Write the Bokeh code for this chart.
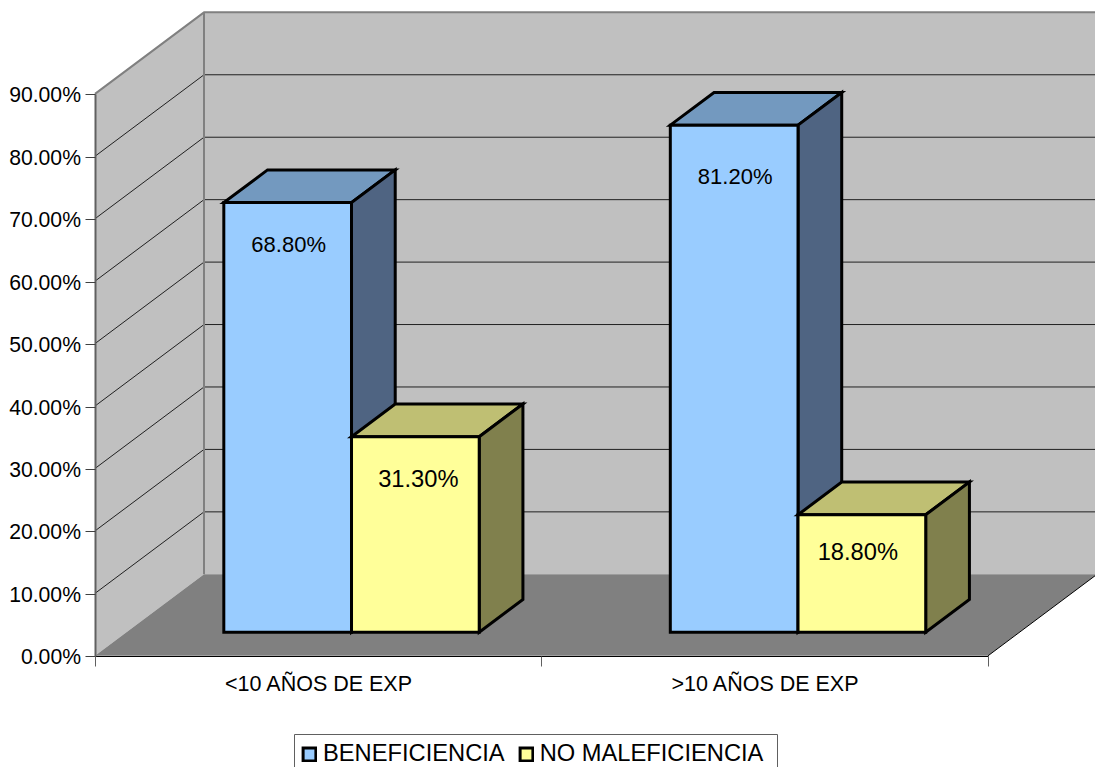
from bokeh.core.properties import value
from bokeh.embed import file_html
from bokeh.models import BoxAnnotation, ColumnDataSource, FixedTicker, Legend, LegendItem, LinearAxis, Range1d
from bokeh.plotting import figure
from bokeh.resources import INLINE

# Chart content
categories = ["<10 AÑOS DE EXP", ">10 AÑOS DE EXP"]
series_names = ["BENEFICIENCIA", "NO MALEFICIENCIA"]
beneficiencia = [68.8, 81.2]
no_maleficiencia = [31.3, 18.8]
y_ticks = [0, 10, 20, 30, 40, 50, 60, 70, 80, 90]

# Colours of each series: front, top, side
BLUE = ("#99CCFF", "#7399BF", "#4F6482")
YELLOW = ("#FFFF99", "#BFBF73", "#80804D")
FONT = "Liberation Sans"

# Canvas scale: one category is PX_X pixels wide, one percent is PX_Y pixels tall
W, H = 1095, 767
ORIGIN_X, ORIGIN_Y = 94.5, 655.3
PX_X, PX_Y = 446.5, 6.244

# Oblique projection: depth 1 is the back wall
DX, DY = 109 / PX_X, 81.5 / PX_Y
BAR_D0, BAR_D1 = 0.29, 0.691
BAR_W = 127.7 / PX_X
BAR_START = 97.2 / PX_X


def pr(x, v, d=0.0):
    return x + d * DX, v + d * DY


def poly(*pts):
    xs, ys = zip(*[pr(*pt) for pt in pts])
    return list(xs), list(ys)


p = figure(
    width=W, height=H, output_backend="svg", toolbar_location=None,
    x_range=Range1d(-ORIGIN_X / PX_X, (W - ORIGIN_X) / PX_X),
    y_range=Range1d((ORIGIN_Y - H) / PX_Y, ORIGIN_Y / PX_Y),
    min_border=0, outline_line_color=None, background_fill_color="white",
)
p.grid.visible = False

# The axes sit one pixel below the plot body on a range of their own
AXIS_DROP = 1.0
p.extra_y_ranges = {"axis": Range1d((ORIGIN_Y + AXIS_DROP - H) / PX_Y, (ORIGIN_Y + AXIS_DROP) / PX_Y)}

# Walls and floor
xmax = len(categories)
vmax = y_ticks[-1]
for pts, colour in [
    ([(0, 0, 0), (0, vmax, 0), (0, vmax, 1), (0, 0, 1)], "#C0C0C0"),
    ([(0, 0, 1), (0, vmax, 1), (xmax, vmax, 1), (xmax, 0, 1)], "#C0C0C0"),
    ([(0, 0, 0), (xmax, 0, 0), (xmax, 0, 1), (0, 0, 1)], "#808080"),
]:
    xs, ys = poly(*pts)
    p.patch(xs, ys, fill_color=colour, line_color=None)

# Gridlines across the left and back walls
grid_xs, grid_ys = [], []
for t in y_ticks[1:-1]:
    xs, ys = poly((0, t, 0), (0, t, 1), (xmax, t, 1))
    grid_xs.append(xs)
    grid_ys.append(ys)
p.multi_line(grid_xs, grid_ys, line_color="#202020", line_width=1)

# Wall edges
xs, ys = poly((0, vmax, 0), (0, vmax, 1), (xmax, vmax, 1))
p.line(xs, ys, line_color="#808080", line_width=2)
xs, ys = poly((0, vmax, 1), (0, 0, 1))
p.line(xs, ys, line_color="#808080", line_width=2)
xs, ys = poly((xmax, 0, 0), (xmax, 0, 1))
p.line(xs, ys, line_color="black", line_width=1)

# Bars, one series after the other so the nearer faces overlap correctly
fronts = []
for s, (vals, cols) in enumerate([(beneficiencia, BLUE), (no_maleficiencia, YELLOW)]):
    faces = {"top": ([], []), "side": ([], []), "front": ([], [])}
    for c, v in enumerate(vals):
        a = c + BAR_START + s * BAR_W
        b = a + BAR_W
        d0, d1 = BAR_D0, BAR_D1
        for key, pts in [
            ("top", [(a, v, d0), (b, v, d0), (b, v, d1), (a, v, d1)]),
            ("side", [(b, 0, d0), (b, v, d0), (b, v, d1), (b, 0, d1)]),
            ("front", [(a, 0, d0), (b, 0, d0), (b, v, d0), (a, v, d0)]),
        ]:
            xs, ys = poly(*pts)
            faces[key][0].append(xs)
            faces[key][1].append(ys)
    style = dict(line_color="black", line_width=3, line_join="miter")
    p.patches(*faces["top"], fill_color=cols[1], **style)
    p.patches(*faces["side"], fill_color=cols[2], **style)
    fronts.append(p.patches(*faces["front"], fill_color=cols[0], **style))

# Value labels on the front faces, nudged in pixels from the face's top centre
label_dx = {0: [1, 1], 1: [3, -4]}
label_dy = {0: [42, 51], 1: [42, 37]}
label_size = {0: "22px", 1: "23.7px"}
for s, vals in enumerate([beneficiencia, no_maleficiencia]):
    lx, ly, lt, ox, oy = [], [], [], [], []
    for c, v in enumerate(vals):
        x, y = pr(c + BAR_START + (s + 0.5) * BAR_W, v, BAR_D0)
        lx.append(x)
        ly.append(y)
        lt.append(f"{v:.2f}%")
        ox.append(label_dx[s][c])
        oy.append(label_dy[s][c])
    p.text(x="x", y="y", text="t", x_offset="ox", y_offset="oy",
           source=ColumnDataSource(dict(x=lx, y=ly, t=lt, ox=ox, oy=oy)),
           text_font=value(FONT), text_font_size=label_size[s], text_color="black",
           text_align="center", text_baseline="middle")

# Value axis
p.yaxis.visible = False
yax = LinearAxis(y_range_name="axis", fixed_location=0)
yax.ticker = FixedTicker(ticks=y_ticks)
yax.bounds = (0, vmax)
yax.major_label_overrides = {t: f"{t:.2f}%" for t in y_ticks}
yax.major_label_text_font = FONT
yax.major_label_text_font_size = "21.2px"
yax.major_label_text_color = "black"
yax.major_label_standoff = 4
yax.major_tick_in = 0
yax.major_tick_out = 10
yax.major_tick_line_color = "#404040"
yax.major_tick_line_width = 1
yax.minor_tick_line_color = None
yax.axis_line_color = "#606060"
yax.axis_line_width = 2
p.add_layout(yax, "left")

# Category axis: labels sit mid-category, ticks on the category boundaries
xax = p.xaxis[0]
xax.fixed_location = -AXIS_DROP / PX_Y
mids = [c + 0.502 for c in range(xmax)]
xax.ticker = FixedTicker(ticks=mids, minor_ticks=list(range(xmax + 1)))
xax.bounds = (0, xmax)
xax.major_label_overrides = {m: name for m, name in zip(mids, categories)}
xax.major_label_text_font = FONT
xax.major_label_text_font_size = "21.5px"
xax.major_label_text_color = "black"
xax.major_label_standoff = 5
xax.major_tick_line_color = None
xax.major_tick_in = 0
xax.major_tick_out = 0
xax.minor_tick_in = 0
xax.minor_tick_out = 10
xax.minor_tick_line_color = "#606060"
xax.axis_line_color = "black"
xax.axis_line_width = 1

# Legend frame running off the bottom edge, with the entries on top of it
p.add_layout(BoxAnnotation(
    left=294, right=777, top=33, bottom=-13,
    left_units="screen", right_units="screen", top_units="screen", bottom_units="screen",
    fill_color="white", fill_alpha=1, line_color="#606060", line_width=1, line_alpha=1,
))
legend = Legend(
    items=[LegendItem(label=n, renderers=[r]) for n, r in zip(series_names, fronts)],
    orientation="horizontal", location=(301, 0), margin=0, padding=0, spacing=13,
    glyph_width=16, glyph_height=16, label_standoff=6, label_height=24,
    label_text_font=FONT, label_text_font_size="23.7px", label_text_color="black",
    border_line_color=None, background_fill_alpha=0,
)
p.add_layout(legend, "center")

open("out.html", "w").write(file_html(p, INLINE))
